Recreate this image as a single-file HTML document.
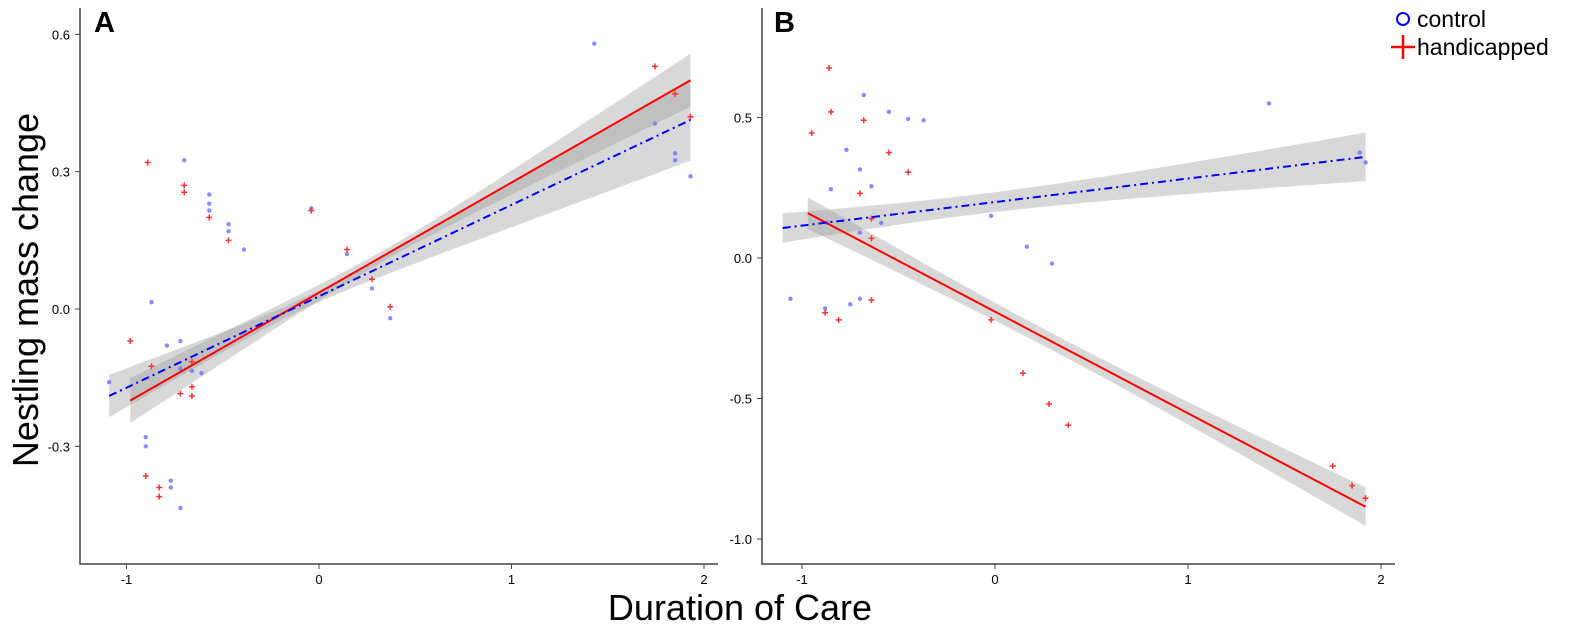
<!DOCTYPE html>
<html><head><meta charset="utf-8"><style>
body{margin:0;background:#fff;}
svg{display:block;font-family:"Liberation Sans",sans-serif;}
</style></head><body>
<svg width="1571" height="632" id="svg">
<text transform="translate(38,290) rotate(-90)" text-anchor="middle" font-size="36" fill="#000">Nestling mass change</text>
<text x="740" y="620" text-anchor="middle" font-size="36" fill="#000">Duration of Care</text>
<text x="94" y="32" font-size="29" font-weight="bold">A</text>
<text x="774" y="32" font-size="29" font-weight="bold">B</text>
<g>
<circle cx="1403" cy="19" r="6" fill="none" stroke="#0000ff" stroke-width="2"/>
<text x="1417" y="27" font-size="23">control</text>
<line x1="1391" y1="47" x2="1415" y2="47" stroke="#ff0000" stroke-width="2.5"/>
<line x1="1403" y1="35" x2="1403" y2="59" stroke="#ff0000" stroke-width="2.5"/>
<text x="1417" y="55" font-size="23">handicapped</text>
</g>
</svg>
<script>
// Panel A data
const aCtrlX=[-0.70,-0.57,-0.57,-0.57,-0.47,-0.47,-0.39,-0.04,0.145,-0.87,-0.79,-0.72,-0.72,-0.66,-0.61,-1.09,-0.90,-0.90,-0.77,-0.77,-0.72,0.275,0.37,1.43,1.745,1.85,1.85,1.93];
const aCtrlY=[0.325,0.25,0.23,0.215,0.185,0.17,0.13,0.22,0.12,0.015,-0.08,-0.07,-0.13,-0.135,-0.14,-0.16,-0.28,-0.30,-0.375,-0.39,-0.435,0.045,-0.02,0.58,0.405,0.34,0.325,0.29];
const aHandX=[-0.89,-0.70,-0.70,-0.57,-0.47,-0.04,0.145,-0.98,-0.87,-0.66,-0.72,-0.66,-0.66,-0.90,-0.83,-0.83,0.275,0.37,1.745,1.85,1.93];
const aHandY=[0.32,0.27,0.255,0.20,0.15,0.215,0.13,-0.07,-0.125,-0.115,-0.185,-0.17,-0.19,-0.365,-0.39,-0.41,0.065,0.005,0.53,0.47,0.42];
// fits: [slope, intercept, xmin, xmax, ciCenterHW, ciSlope, ciMeanX]
const aCtrlFit=[0.1997,0.0277,-1.09,1.93,0.012,0.044,-0.077];
const aHandFit=[0.2405,0.0357,-0.98,1.93,0.012,0.036,0.35];
const aXTicks=[-1,0,1,2];
const aYTicks=[-0.3,0,0.3,0.6];
const aYTickLabels=["-0.3","0.0","0.3","0.6"];
// Panel B data
const bCtrlX=[-0.68,-0.55,-0.45,-0.37,-0.77,-0.70,-0.64,-0.85,-0.59,-0.70,-0.02,0.165,0.295,-1.06,-0.88,-0.75,-0.70,-0.87,1.42,1.89,1.92];
const bCtrlY=[0.58,0.52,0.495,0.49,0.385,0.315,0.255,0.245,0.125,0.09,0.15,0.04,-0.02,-0.145,-0.18,-0.165,-0.145,0.125,0.55,0.375,0.34];
const bHandX=[-0.86,-0.85,-0.68,-0.95,-0.55,-0.45,-0.70,-0.64,-0.64,-0.88,-0.81,-0.02,0.145,0.28,0.38,1.75,1.85,1.92,-0.64];
const bHandY=[0.676,0.52,0.49,0.445,0.375,0.305,0.23,0.07,-0.15,-0.195,-0.22,-0.22,-0.41,-0.52,-0.595,-0.74,-0.81,-0.855,0.14];
const bCtrlFit=[0.0838,0.199,-1.10,1.92,0.035,0.039,-0.1];
const bHandFit=[-0.3616,-0.191,-0.97,1.92,0.03,0.038,0.3];
const bXTicks=[-1,0,1,2];
const bYTicks=[-1.0,-0.5,0,0.5];
const bYTickLabels=["-1.0","-0.5","0.0","0.5"];

const NS="http://www.w3.org/2000/svg";
const svg=document.getElementById('svg');
function mk(tag,attrs,parent){const e=document.createElementNS(NS,tag);for(const k in attrs)e.setAttribute(k,attrs[k]);(parent||svg).appendChild(e);return e;}

function panel(P){
  const g=mk('g',{});
  
  
  const sx=v=>P.x0+(v-P.xa)*P.xs;
  const sy=v=>P.y0-(v-P.ya)*P.ys;
  // bands
  [P.hf,P.cf].forEach((f,i)=>{
    const up=[],lo=[];
    for(let k=0;k<=60;k++){const x=f[2]+(f[3]-f[2])*k/60;const y=f[0]*x+f[1];const hw=Math.sqrt(f[4]*f[4]+f[5]*f[5]*(x-f[6])*(x-f[6]));up.push(sx(x).toFixed(1)+','+sy(y+hw).toFixed(1));lo.unshift(sx(x).toFixed(1)+','+sy(y-hw).toFixed(1));}
    const b=mk('polygon',{points:up.concat(lo).join(' '),fill:'#999','fill-opacity':'0.38'},g);
    
    
  });
  // points
  P.cx.forEach((x,i)=>{const c=mk('circle',{cx:sx(x),cy:sy(P.cy[i]),r:2.2,fill:'#7777ff','fill-opacity':'0.85'},g);
    
    });
  P.hx.forEach((x,i)=>{const X=sx(x),Y=sy(P.hy[i]);const p=mk('path',{d:`M${X-3},${Y}H${X+3}M${X},${Y-3}V${Y+3}`,stroke:'#ff3333','stroke-width':1.5},g);
    
    });
  // lines
  const hl=mk('line',{x1:sx(P.hf[2]),y1:sy(P.hf[0]*P.hf[2]+P.hf[1]),x2:sx(P.hf[3]),y2:sy(P.hf[0]*P.hf[3]+P.hf[1]),stroke:'#ff0000','stroke-width':2},g);
  
  
  const cl=mk('line',{x1:sx(P.cf[2]),y1:sy(P.cf[0]*P.cf[2]+P.cf[1]),x2:sx(P.cf[3]),y2:sy(P.cf[0]*P.cf[3]+P.cf[1]),stroke:'#0000ff','stroke-width':2,'stroke-dasharray':'8,4,2,4'},g);
  
  
  // axes
  const ax=mk('path',{d:`M${P.ax},${P.top}V${P.ay}H${P.right}`,stroke:'#444','stroke-width':1.5,fill:'none'},g);
  
  
  P.xt.forEach(v=>{mk('line',{x1:sx(v),x2:sx(v),y1:P.ay,y2:P.ay+5,stroke:'#444'},g);
    const t=mk('text',{x:sx(v),y:P.ay+20,'text-anchor':'middle','font-size':13},g);t.textContent=v;
    
    });
  P.yt.forEach((v,i)=>{mk('line',{x1:P.ax-5,x2:P.ax,y1:sy(v),y2:sy(v),stroke:'#444'},g);
    const t=mk('text',{x:P.ax-10,y:sy(v)+5,'text-anchor':'end','font-size':13},g);t.textContent=P.ytl[i];
    
    });
}
panel({name:'panel-a',x0:319,xa:0,xs:192.5,y0:309,ya:0,ys:457.7,cx:aCtrlX,cy:aCtrlY,hx:aHandX,hy:aHandY,cf:aCtrlFit,hf:aHandFit,xt:aXTicks,yt:aYTicks,ytl:aYTickLabels,ax:80,ay:564,top:8,right:718});
panel({name:'panel-b',x0:995,xa:0,xs:193,y0:258,ya:0,ys:281,cx:bCtrlX,cy:bCtrlY,hx:bHandX,hy:bHandY,cf:bCtrlFit,hf:bHandFit,xt:bXTicks,yt:bYTicks,ytl:bYTickLabels,ax:762,ay:564,top:8,right:1395});
</script>
</body></html>
